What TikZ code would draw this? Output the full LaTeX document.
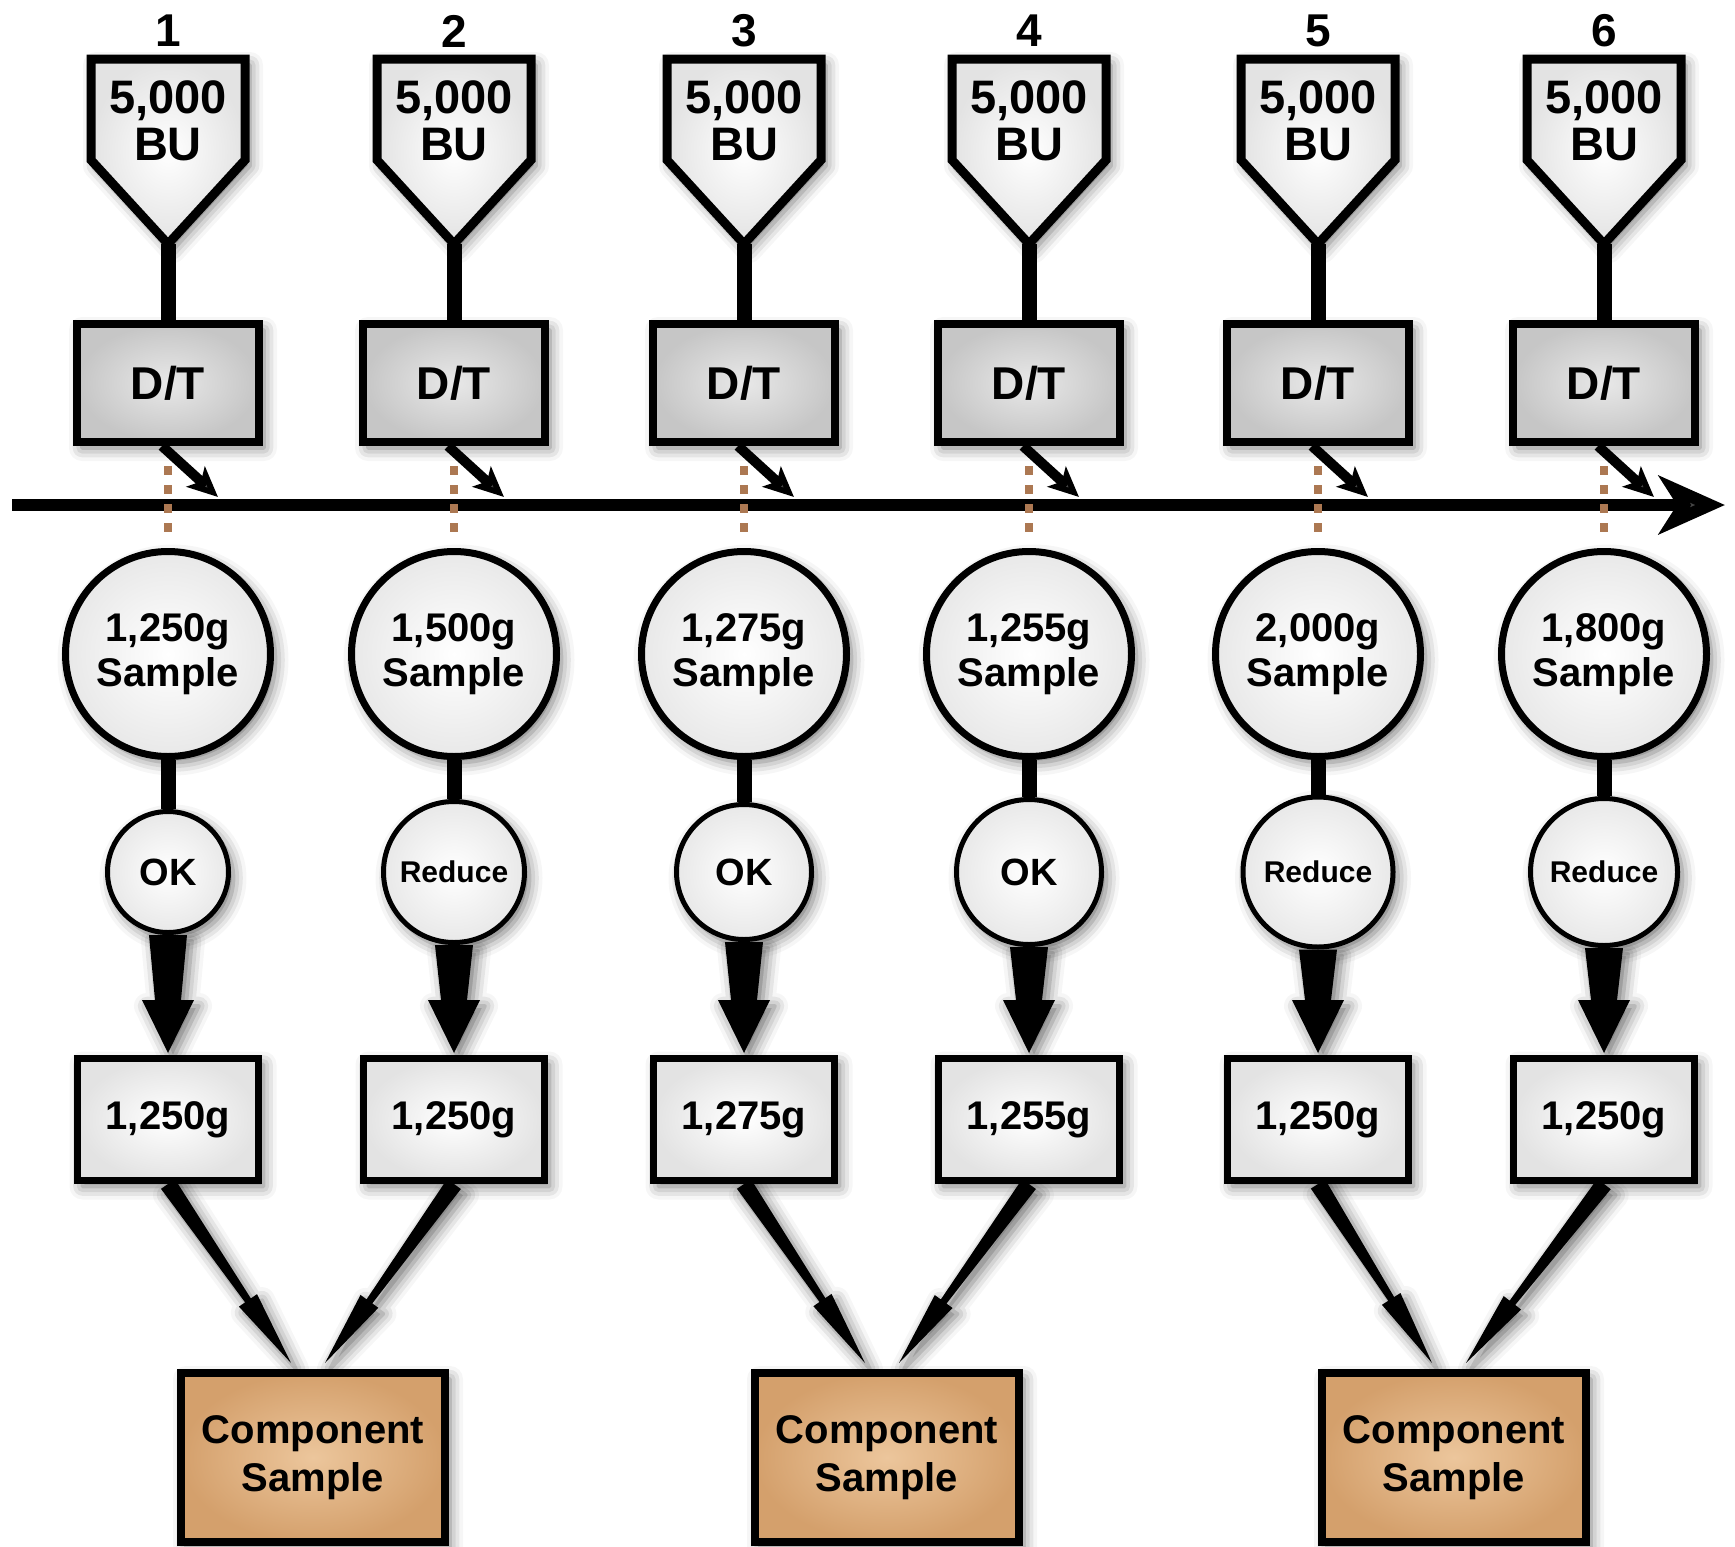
\documentclass[tikz,border=0pt]{standalone}
\usepackage{fontspec}
\setmainfont{Liberation Sans}
\usetikzlibrary{arrows.meta,calc,shadows.blur}
\pgfdeclarelayer{bg}
\pgfdeclarelayer{paper}
\pgfsetlayers{paper,bg,main}

\definecolor{tanin}{RGB}{236,198,156}
\definecolor{tanout}{RGB}{212,160,108}
\definecolor{dotbrown}{RGB}{172,120,82}

\tikzset{
 sh/.style={blur shadow={shadow xshift=5pt, shadow yshift=-6pt, shadow blur radius=13pt, shadow opacity=55}},
 hopper/.style={draw=black, line width=9pt, line join=miter, inner color=white, outer color=gray!22, sh},
 lbl/.style={font=\fontsize{47}{47}\selectfont\bfseries, align=center, inner sep=0pt},
 dtbox/.style={draw, line width=8pt, rectangle, minimum width=182pt, minimum height=118pt, inner color=gray!18, outer color=gray!45, font=\fontsize{46}{46}\selectfont\bfseries, sh},
 bigc/.style={draw, circle, line width=7pt, minimum size=205pt, inner sep=0pt, inner color=white, outer color=gray!18, align=center, font=\fontsize{40}{45}\selectfont\bfseries, sh},
 smallc/.style={draw, circle, line width=5pt, inner sep=0pt, inner color=white, outer color=gray!18, sh},
 wbox/.style={draw, line width=7pt, minimum width=181pt, minimum height=122pt, inner color=white, outer color=gray!22, font=\fontsize{40}{40}\selectfont\bfseries, sh},
 compbox/.style={draw, line width=8pt, minimum width=264pt, minimum height=169pt, inner color=tanin, outer color=tanout, align=center, font=\fontsize{40}{48}\selectfont\bfseries, sh},
 stem/.style={line width=15pt},
 dotline/.style={draw=dotbrown, line width=8pt, dash pattern=on 9pt off 10pt},
 tarrow/.style={fill=black, sh},
 mainline/.style={line width=12pt, -{Stealth[length=66pt, width=58pt, inset=18pt]}},
 smallarrow/.style={line width=10pt, -{Stealth[length=30pt, width=27pt, inset=7pt]}},
}

\newcommand\taperarrow[6]{%
 \fill[tarrow] ($(#1)!#3!90:(#2)$) -- ($(#2)!#6!(#1)!#4!-90:(#1)$) -- ($(#2)!#6!(#1)!#5!-90:(#1)$) -- (#2) -- ($(#2)!#6!(#1)!#5!90:(#1)$) -- ($(#2)!#6!(#1)!#4!90:(#1)$) -- ($(#1)!#3!-90:(#2)$) -- cycle;}

\begin{document}
\begin{tikzpicture}[x=1pt,y=-1pt]
\begin{pgfonlayer}{paper}
\fill[white] (0,0) rectangle (1735,1547);
\end{pgfonlayer}
\useasboundingbox (0,0) rectangle (1735,1547);
% first use of the blur shadow, placed outside the page
\path[sh, fill=white] (-600,-600) rectangle (-500,-500);

\node[compbox] (comp1) at (313,1457.5) {Component\\Sample};
\node[compbox] (comp2) at (887,1457.5) {Component\\Sample};
\node[compbox] (comp3) at (1454,1457.5) {Component\\Sample};

\foreach \i/\x/\bs/\dec/\dfs/\r/\ls in {
 1/168/{1,250g}/OK/38/126/{1,250g},
 2/454/{1,500g}/Reduce/30/146/{1,250g},
 3/744/{1,275g}/OK/38/140/{1,275g},
 4/1029/{1,255g}/OK/38/150/{1,255g},
 5/1318/{2,000g}/Reduce/30/155/{1,250g},
 6/1604/{1,800g}/Reduce/30/152/{1,250g}}{
  \path[hopper] (\x-77,59) -- (\x+77,59) -- (\x+77,160) -- (\x,244) -- (\x-77,160) -- cycle;
  \coordinate (tip\i) at (\x,244);
  \node[lbl, font=\fontsize{46}{46}\selectfont\bfseries] (n\i) at (\x,31) {\i};
  \node[lbl] (h\i) at (\x,121) {5,000\\BU};
  \node[dtbox] (dt\i) at (\x,383) {D/T};
  \node[bigc] (bc\i) at (\x,654) {\bs\\Sample};
  \pgfmathsetmacro{\rr}{\r-5}
  \node[smallc, minimum size=\rr pt, font=\fontsize{\dfs}{\dfs}\selectfont\bfseries] (sc\i) at (\x,872) {\dec};
  \node[wbox] (wb\i) at (\x,1119.5) {\ls};
}

\begin{pgfonlayer}{bg}
\coordinate (tl0) at (12,505);
\coordinate (tl1) at (1725,505);
\draw[mainline] (tl0) -- (tl1);
\foreach \i in {1,...,6}{
  \draw[stem] (tip\i) -- (dt\i.north);
  \draw[stem] (bc\i.south) -- (sc\i.north);
  \coordinate (ds\i) at ($(dt\i.south)+(-6,0)$);
  \coordinate (de\i) at ($(dt\i.south)+(50,51)$);
  \draw[smallarrow] (ds\i) -- (de\i);
  \draw[dotline, shorten <=20pt, shorten >=14pt] (dt\i.south) -- (bc\i.north);
  \coordinate (vt\i) at ($(wb\i.north)+(0,-2)$);
  \taperarrow{sc\i.south}{vt\i}{19pt}{13pt}{26pt}{53pt}
}
\foreach \k in {1,2,3}{
  \coordinate (cl\k) at ($(comp\k.north)+(-22,-6)$);
  \coordinate (cr\k) at ($(comp\k.north)+(12,-6)$);
}
\taperarrow{wb1.south}{cl1}{8.5pt}{3.5pt}{11pt}{76pt}
\taperarrow{wb2.south}{cr1}{8.5pt}{3.5pt}{11pt}{76pt}
\taperarrow{wb3.south}{cl2}{8.5pt}{3.5pt}{11pt}{76pt}
\taperarrow{wb4.south}{cr2}{8.5pt}{3.5pt}{11pt}{76pt}
\taperarrow{wb5.south}{cl3}{8.5pt}{3.5pt}{11pt}{76pt}
\taperarrow{wb6.south}{cr3}{8.5pt}{3.5pt}{11pt}{76pt}
\end{pgfonlayer}
\end{tikzpicture}
\end{document}
